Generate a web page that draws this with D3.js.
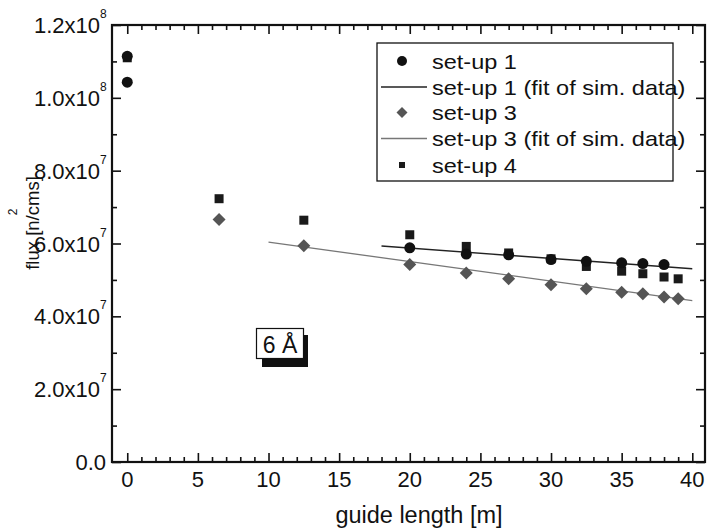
<!DOCTYPE html>
<html><head><meta charset="utf-8">
<script src="https://cdn.jsdelivr.net/npm/d3@7"></script>
<style>
html,body{margin:0;padding:0;background:#fff;}
svg{display:block;font-family:"Liberation Sans",Arial,sans-serif;}
</style></head>
<body>
<svg id="chart" width="707" height="529"></svg>
<script>
// ---- data ----
const set1X = [0, 0, 20, 24, 27, 30, 32.5, 35, 36.5, 38];
const set1Y = [1.114e8, 1.043e8, 5.88e7, 5.71e7, 5.69e7, 5.56e7, 5.51e7, 5.47e7, 5.45e7, 5.42e7];
const set3X = [6.5, 12.5, 20, 24, 27, 30, 32.5, 35, 36.5, 38, 39];
const set3Y = [6.66e7, 5.94e7, 5.42e7, 5.19e7, 5.03e7, 4.87e7, 4.76e7, 4.66e7, 4.62e7, 4.53e7, 4.48e7];
const set4X = [0, 6.5, 12.5, 20, 24, 27, 30, 32.5, 35, 36.5, 38, 39];
const set4Y = [1.11e8, 7.23e7, 6.64e7, 6.24e7, 5.92e7, 5.74e7, 5.58e7, 5.37e7, 5.24e7, 5.17e7, 5.08e7, 5.03e7];
const fit1X = [18, 40];
const fit1Y = [5.93e7, 5.31e7];
const fit3X = [10, 40];
const fit3Y = [6.04e7, 4.43e7];

const xTickValues = [0, 5, 10, 15, 20, 25, 30, 35, 40];
const xTickLabels = ["0", "5", "10", "15", "20", "25", "30", "35", "40"];
const yTickValues = [0, 2e7, 4e7, 6e7, 8e7, 1e8, 1.2e8];
const yTickMantissa = ["0.0", "2.0x10", "4.0x10", "6.0x10", "8.0x10", "1.0x10", "1.2x10"];
const yTickExponent = ["", "7", "7", "7", "7", "8", "8"];

const legendLabels = ["set-up 1", "set-up 1 (fit of sim. data)", "set-up 3", "set-up 3 (fit of sim. data)", "set-up 4"];
const xTitle = "guide length [m]";
const yTitle = "flux [n/cms]";
const annotation = "6 Å";

// ---- layout ----
const L = 112, R = 705, T = 25, B = 462;
const svg = d3.select("#chart");
const x = d3.scaleLinear().domain([-1.08, 40.9]).range([L, R]);
const y = d3.scaleLinear().domain([0, 1.2e8]).range([B, T]);

const xMinor = d3.range(0, 41).filter(v => v % 5 !== 0);
const yMinor = [1e7, 3e7, 5e7, 7e7, 9e7, 1.1e8];

function tickStyle(g){
  g.select(".domain").remove();
  g.selectAll("line").attr("stroke", "#111").attr("stroke-width", 1.6);
  g.selectAll("text").remove();
}
// bottom
svg.append("g").attr("transform", `translate(0,${B})`)
  .call(d3.axisBottom(x).tickValues(xTickValues).tickSizeInner(-9).tickSizeOuter(0)).call(tickStyle);
svg.append("g").attr("transform", `translate(0,${B})`)
  .call(d3.axisBottom(x).tickValues(xMinor).tickSizeInner(-5).tickSizeOuter(0)).call(tickStyle);
// top
svg.append("g").attr("transform", `translate(0,${T})`)
  .call(d3.axisTop(x).tickValues(xTickValues).tickSizeInner(-9).tickSizeOuter(0)).call(tickStyle);
svg.append("g").attr("transform", `translate(0,${T})`)
  .call(d3.axisTop(x).tickValues(xMinor).tickSizeInner(-5).tickSizeOuter(0)).call(tickStyle);
// left
svg.append("g").attr("transform", `translate(${L},0)`)
  .call(d3.axisLeft(y).tickValues(yTickValues).tickSizeInner(-9).tickSizeOuter(0)).call(tickStyle);
svg.append("g").attr("transform", `translate(${L},0)`)
  .call(d3.axisLeft(y).tickValues(yMinor).tickSizeInner(-5).tickSizeOuter(0)).call(tickStyle);
// right
svg.append("g").attr("transform", `translate(${R},0)`)
  .call(d3.axisRight(y).tickValues(yTickValues).tickSizeInner(-9).tickSizeOuter(0)).call(tickStyle);
svg.append("g").attr("transform", `translate(${R},0)`)
  .call(d3.axisRight(y).tickValues(yMinor).tickSizeInner(-5).tickSizeOuter(0)).call(tickStyle);

// frame
svg.append("rect").attr("x", L).attr("y", T).attr("width", R - L).attr("height", B - T)
  .attr("fill", "none").attr("stroke", "#111").attr("stroke-width", 2.2);

// x tick labels
svg.append("g").selectAll("text").data(xTickValues).join("text")
  .attr("x", d => x(d)).attr("y", B + 25)
  .attr("text-anchor", "middle").attr("font-size", 22).attr("fill", "#111")
  .text((d, i) => xTickLabels[i]);

// y tick labels
const yl = svg.append("g").selectAll("g").data(yTickValues).join("g")
  .attr("transform", d => `translate(0,${y(d)})`);
yl.append("text")
  .attr("x", (d, i) => yTickExponent[i] ? 100 : 106).attr("y", 8)
  .attr("text-anchor", "end").attr("font-size", 22).attr("fill", "#111")
  .text((d, i) => yTickMantissa[i]);
yl.append("text")
  .attr("x", 100).attr("y", -7)
  .attr("text-anchor", "start").attr("font-size", 12).attr("fill", "#111")
  .text((d, i) => yTickExponent[i]);

// axis titles
svg.append("text").attr("x", 419).attr("y", 523).attr("text-anchor", "middle")
  .attr("font-size", 23.5).attr("fill", "#111").text(xTitle);
const yt = svg.append("g").attr("transform", "translate(39,223) rotate(-90)");
yt.append("text").attr("x", 0).attr("y", 0).attr("text-anchor", "middle")
  .attr("font-size", 18.5).attr("fill", "#111").text(yTitle);
yt.append("text").attr("x", 11).attr("y", -22).attr("text-anchor", "middle")
  .attr("font-size", 12).attr("fill", "#111").text("2");

// fit lines
const line = d3.line().x(d => x(d[0])).y(d => y(d[1]));
svg.append("path").datum(fit3X.map((v, i) => [v, fit3Y[i]]))
  .attr("d", line).attr("fill", "none").attr("stroke", "#777").attr("stroke-width", 1.3);
svg.append("path").datum(fit1X.map((v, i) => [v, fit1Y[i]]))
  .attr("d", line).attr("fill", "none").attr("stroke", "#222").attr("stroke-width", 1.5);

// markers
const sq = 9, dia = 6.5, cr = 5.5;
svg.append("g").selectAll("rect").data(set4X.map((v, i) => [v, set4Y[i]])).join("rect")
  .attr("x", d => x(d[0]) - sq / 2).attr("y", d => y(d[1]) - sq / 2)
  .attr("width", sq).attr("height", sq).attr("fill", "#1a1a1a");
svg.append("g").selectAll("path").data(set3X.map((v, i) => [v, set3Y[i]])).join("path")
  .attr("d", d => { const cx = x(d[0]), cy = y(d[1]);
    return `M${cx},${cy - dia}L${cx + dia},${cy}L${cx},${cy + dia}L${cx - dia},${cy}Z`; })
  .attr("fill", "#555");
svg.append("g").selectAll("circle").data(set1X.map((v, i) => [v, set1Y[i]])).join("circle")
  .attr("cx", d => x(d[0])).attr("cy", d => y(d[1])).attr("r", cr).attr("fill", "#111");

// annotation box
svg.append("rect").attr("x", 262).attr("y", 335).attr("width", 46).attr("height", 32).attr("fill", "#111");
svg.append("rect").attr("x", 256.5).attr("y", 328.5).attr("width", 47).attr("height", 30)
  .attr("fill", "#fff").attr("stroke", "#111").attr("stroke-width", 1.2);
svg.append("text").attr("x", 280).attr("y", 353).attr("text-anchor", "middle")
  .attr("font-size", 23).attr("fill", "#111").text(annotation);

// legend
svg.append("rect").attr("x", 377).attr("y", 43).attr("width", 296).attr("height", 138)
  .attr("fill", "#fff").attr("stroke", "#111").attr("stroke-width", 1.3);
const rowY = [61, 87, 112.5, 138.5, 165];
const lg = svg.append("g");
lg.append("circle").attr("cx", 402).attr("cy", rowY[0]).attr("r", 5).attr("fill", "#111");
lg.append("line").attr("x1", 381).attr("x2", 427).attr("y1", rowY[1]).attr("y2", rowY[1])
  .attr("stroke", "#222").attr("stroke-width", 1.5);
lg.append("path").attr("d", `M402,${rowY[2] - 5.5}L407.5,${rowY[2]}L402,${rowY[2] + 5.5}L396.5,${rowY[2]}Z`).attr("fill", "#555");
lg.append("line").attr("x1", 381).attr("x2", 427).attr("y1", rowY[3]).attr("y2", rowY[3])
  .attr("stroke", "#777").attr("stroke-width", 1.3);
lg.append("rect").attr("x", 399).attr("y", rowY[4] - 3).attr("width", 6).attr("height", 6).attr("fill", "#1a1a1a");
lg.selectAll("text").data(legendLabels).join("text")
  .attr("transform", (d, i) => `translate(432,${rowY[i] + 7.5}) scale(1.12,1)`)
  .attr("font-size", 21).attr("fill", "#111").text(d => d);
</script>
</body></html>
